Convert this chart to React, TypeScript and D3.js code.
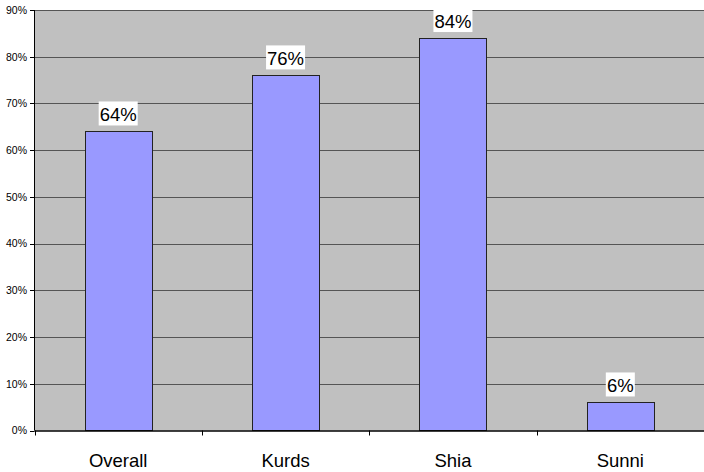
import React from "react";
import * as d3 from "d3";

const categories = ["Overall", "Kurds", "Shia", "Sunni"];
const values = [64, 76, 84, 6];
const yTicks = [0, 10, 20, 30, 40, 50, 60, 70, 80, 90];

const W = 704;
const H = 472;
const M = { left: 34.5, right: 704, top: 10, bottom: 430.5 };
const FONT = "'Liberation Sans', Arial, sans-serif";

export default function App() {
  const x = d3.scaleBand<string>().domain(categories).range([M.left, M.right]).padding(0);
  const y = d3.scaleLinear().domain([0, 90]).range([M.bottom, M.top]);
  const barW = x.bandwidth() * 0.4;
  const boundaries = categories.map((c) => x(c)!).concat([M.right]);

  return (
    <svg width={W} height={H} style={{ position: "absolute", left: 0, top: 0 }} fontFamily={FONT}>
      <rect x={M.left} y={M.top} width={M.right - M.left} height={M.bottom - M.top} fill="#c0c0c0" />
      {yTicks.map((t) => (
        <g key={t}>
          {t > 0 && (
            <line x1={M.left} x2={M.right} y1={Math.round(y(t)) + 0.5} y2={Math.round(y(t)) + 0.5} stroke="#555" strokeWidth={1} />
          )}
          <line x1={30} x2={M.left} y1={Math.round(y(t)) + 0.5} y2={Math.round(y(t)) + 0.5} stroke="#000" strokeWidth={1} />
          <text x={27} y={y(t) + 3.8} fontSize={10.5} textAnchor="end" fill="#000">
            {t}%
          </text>
        </g>
      ))}
      {categories.map((c, i) => {
        const cx = x(c)! + x.bandwidth() / 2;
        const top = y(values[i]);
        const label = `${values[i]}%`;
        const tw = label.length === 3 ? 37 : 27;
        return (
          <g key={c}>
            <rect x={Math.round(cx - barW / 2) + 0.5} y={Math.round(top) + 0.5} width={Math.round(barW)} height={M.bottom - Math.round(top) - 0.5} fill="#9999ff" stroke="#222" strokeWidth={1} />
            <rect x={cx - tw / 2 - 1} y={top - 30} width={tw + 2} height={24} fill="#fff" />
            <text x={cx} y={top - 10.5} fontSize={18.5} textAnchor="middle" fill="#000">
              {label}
            </text>
            <text x={cx} y={467} fontSize={18.5} textAnchor="middle" fill="#000">
              {c}
            </text>
          </g>
        );
      })}
      <line x1={M.left} x2={M.left} y1={M.top} y2={M.bottom} stroke="#000" strokeWidth={1} />
      <line x1={M.left} x2={M.right} y1={M.bottom + 0.5} y2={M.bottom + 0.5} stroke="#000" strokeWidth={1.5} />
      {boundaries.map((bx, i) => (
        <line key={i} x1={Math.round(bx) + 0.5} x2={Math.round(bx) + 0.5} y1={M.bottom} y2={M.bottom + 5} stroke="#000" strokeWidth={1} />
      ))}
    </svg>
  );
}
